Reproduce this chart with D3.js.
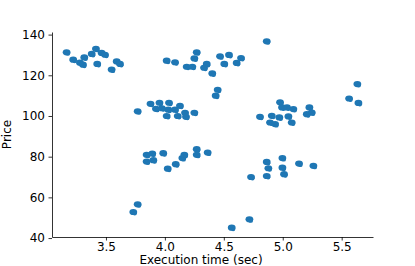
<!DOCTYPE html>
<html>
<head>
<meta charset="utf-8">
<script src="https://cdn.jsdelivr.net/npm/d3@7"></script>
<style>
  body { margin: 0; background: #fff; }
  svg { display: block; }
  .axis text { font-family: "DejaVu Sans", sans-serif; font-size: 12px; fill: #000; }
  .axis path, .axis line { stroke: #000; stroke-width: 0.8; }
</style>
</head>
<body>
<svg id="chart" width="415" height="266"></svg>
<script>
// execution time (sec)
var execTime = [
  3.166, 3.222, 3.279, 3.316, 3.305, 3.379, 3.415, 3.463, 3.492, 3.426, 3.548, 3.591, 3.619,
  4.015, 4.086, 4.185, 4.233, 4.250, 4.270, 4.355, 4.332, 4.402, 4.468, 4.544, 4.504, 4.609, 4.646, 4.448, 4.431,
  4.864,
  3.769, 3.878, 3.954, 4.035, 3.924, 3.975, 4.029, 4.086, 4.128, 4.015, 4.109, 4.171, 4.179, 4.250,
  3.845, 3.893, 3.986, 3.845, 3.902, 4.024, 4.092, 4.148, 4.165, 4.270, 4.270, 4.363, 3.769, 3.732,
  4.807, 4.907, 4.971, 4.892, 4.935, 4.977, 4.994, 5.036, 5.090, 5.048, 5.076, 5.226, 5.246, 5.204,
  4.864, 4.997, 4.878, 4.997, 5.011, 4.864, 4.731, 5.138, 5.260, 4.717, 4.567,
  5.633, 5.563, 5.642
];
// price
var price = [
  131.3, 127.7, 126.2, 128.8, 125.2, 130.5, 133.0, 131.0, 130.1, 125.6, 122.8, 126.8, 125.6,
  127.2, 126.4, 124.2, 124.2, 128.3, 131.3, 125.6, 123.7, 120.9, 129.3, 130.0, 125.6, 126.1, 128.5, 112.9, 110.0,
  136.7,
  102.3, 106.0, 106.5, 106.5, 103.5, 103.8, 103.1, 103.1, 105.0, 100.0, 100.0, 101.6, 99.6, 101.6,
  80.9, 81.5, 81.7, 77.6, 78.3, 74.1, 76.3, 79.3, 80.9, 83.7, 80.9, 82.0, 56.6, 52.8,
  99.6, 100.1, 99.3, 96.8, 96.0, 106.7, 104.2, 104.2, 103.4, 99.8, 96.8, 104.2, 101.7, 100.9,
  77.4, 79.3, 74.3, 74.6, 71.4, 70.5, 70.0, 76.6, 75.5, 49.2, 45.1,
  115.7, 108.6, 106.4
];
var xTicks = [3.5, 4.0, 4.5, 5.0, 5.5];
var yTicks = [40, 60, 80, 100, 120, 140];

var points = execTime.map(function(t, i) { return { t: t, p: price[i] }; });

var margin = { left: 52, right: 42, top: 32, bottom: 29 };
var svg = d3.select("#chart");
var width = 415 - margin.left - margin.right;
var height = 266 - margin.top - margin.bottom;

// matplotlib style 5% padding around the data
var xExt = d3.extent(execTime), yExt = d3.extent(price);
var xPad = (xExt[1] - xExt[0]) * 0.05, yPad = (yExt[1] - yExt[0]) * 0.05;

var x = d3.scaleLinear().domain([xExt[0] - xPad, xExt[1] + xPad]).range([0, width]);
var y = d3.scaleLinear().domain([yExt[0] - yPad, yExt[1] + yPad]).range([height, 0]);

var g = svg.append("g").attr("transform", "translate(" + margin.left + "," + margin.top + ")");

var dots = g.append("g").selectAll(".dot")
  .data(points)
  .enter().append("g")
    .attr("class", "dot")
    .attr("transform", function(d) { return "translate(" + x(d.t) + "," + y(d.p) + ")"; })
    .attr("fill", "#1f77b4");
dots.append("ellipse").attr("rx", 3.9).attr("ry", 3.1);
dots.append("circle").attr("cx", 1.4).attr("cy", 1.3).attr("r", 2.2);

g.append("g")
  .attr("class", "axis")
  .attr("transform", "translate(0," + height + ")")
  .call(d3.axisBottom(x).tickValues(xTicks).tickFormat(d3.format(".1f")).tickSize(3.5).tickPadding(1.5).tickSizeOuter(0));

g.append("g")
  .attr("class", "axis")
  .call(d3.axisLeft(y).tickValues(yTicks).tickFormat(d3.format("d")).tickSize(3.5).tickPadding(3.5).tickSizeOuter(0));

svg.append("text")
  .attr("x", 201)
  .attr("y", 264)
  .attr("text-anchor", "middle")
  .style("font-family", "DejaVu Sans, sans-serif")
  .style("font-size", "12px")
  .text("Execution time (sec)");

svg.append("text")
  .attr("transform", "translate(11," + (margin.top + height / 2) + ") rotate(-90)")
  .attr("text-anchor", "middle")
  .style("font-family", "DejaVu Sans, sans-serif")
  .style("font-size", "12px")
  .text("Price");
</script>
</body>
</html>
